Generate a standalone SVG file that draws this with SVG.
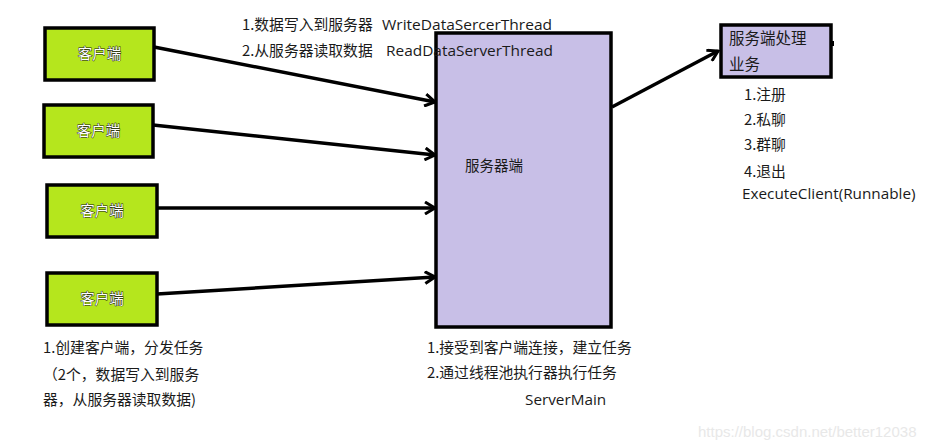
<svg xmlns="http://www.w3.org/2000/svg" width="936" height="447" viewBox="0 0 936 447">
<style>
.client{fill:#b5e61d;stroke:#000;stroke-width:3.5}
.purple{fill:#c8bfe7;stroke:#000;stroke-width:3.5}
.ctext{font-family:"Noto Sans CJK SC","Microsoft YaHei",sans-serif;font-size:14.5px;fill:#fff;stroke:#111;stroke-width:0.8;paint-order:stroke;text-anchor:middle}
.lbl{font-family:"Noto Sans CJK SC","Open Sans",sans-serif;font-size:14.8px;fill:#1a1a1a}
.lat{font-family:"Open Sans","Noto Sans",sans-serif;font-size:15.3px;fill:#1a1a1a}
.conn{stroke:#000;stroke-width:3.5;fill:none;marker-end:url(#ah)}
</style>
<defs>
<marker id="ah" viewBox="0 0 14 14" refX="12" refY="7" markerWidth="14" markerHeight="14" markerUnits="userSpaceOnUse" orient="auto">
<path d="M2,1 L12,7 L2,13" fill="none" stroke="#000" stroke-width="3"/>
</marker>
</defs>
<rect width="936" height="447" fill="#fff"/>

<g id="connectors">
<line class="conn" x1="154" y1="47" x2="435" y2="102"/>
<line class="conn" x1="153" y1="125" x2="435" y2="155"/>
<line class="conn" x1="157" y1="208" x2="435" y2="208"/>
<line class="conn" x1="157" y1="294" x2="435" y2="277"/>
<line class="conn" x1="612" y1="107" x2="718" y2="51"/>
</g>

<g id="client1">
<rect class="client" x="45" y="28" width="109" height="52"/>
<text class="ctext" x="99.5" y="59">客户端</text>
</g>
<g id="client2">
<rect class="client" x="44" y="105" width="109" height="52"/>
<text class="ctext" x="98.5" y="136">客户端</text>
</g>
<g id="client3">
<rect class="client" x="47" y="185" width="110" height="52"/>
<text class="ctext" x="102" y="216">客户端</text>
</g>
<g id="client4">
<rect class="client" x="47" y="273" width="110" height="52"/>
<text class="ctext" x="102" y="304">客户端</text>
</g>

<g id="server">
<rect class="purple" x="436" y="33" width="175" height="294"/>
<text class="lbl" x="465" y="171" style="font-size:14.5px">服务器端</text>
</g>

<g id="business">
<rect class="purple" x="721" y="25" width="110" height="52"/>
<text class="lbl" x="729" y="44" style="font-size:15.5px">服务端处理</text>
<text class="lbl" x="729" y="70" style="font-size:15.5px">业务</text>
<rect x="830" y="41" width="4" height="5" fill="#000"/>
</g>

<g id="labels">
<text class="lbl" x="242" y="30">1.数据写入到服务器</text>
<text class="lat" x="382" y="30" textLength="170" lengthAdjust="spacingAndGlyphs">WriteDataSercerThread</text>
<text class="lbl" x="242" y="56">2.从服务器读取数据</text>
<text class="lat" x="386" y="56" textLength="167" lengthAdjust="spacingAndGlyphs">ReadDataServerThread</text>

<text class="lbl" x="43" y="353">1.创建客户端，分发任务</text>
<text class="lbl" x="43" y="380">（2个，数据写入到服务</text>
<text class="lbl" x="43" y="405">器，从服务器读取数据)</text>

<text class="lbl" x="427" y="353">1.接受到客户端连接，建立任务</text>
<text class="lbl" x="427" y="378">2.通过线程池执行器执行任务</text>
<text class="lat" x="525" y="405">ServerMain</text>

<text class="lbl" x="744" y="100">1.注册</text>
<text class="lbl" x="744" y="125">2.私聊</text>
<text class="lbl" x="744" y="150">3.群聊</text>
<text class="lbl" x="744" y="177">4.退出</text>
<text class="lat" x="742" y="199">ExecuteClient(Runnable)</text>

<text x="698" y="437" style="font-family:'Liberation Sans',Arial,sans-serif;font-size:15px;fill:#e8e8e8">https://blog.csdn.net/better12038</text>
</g>
</svg>
